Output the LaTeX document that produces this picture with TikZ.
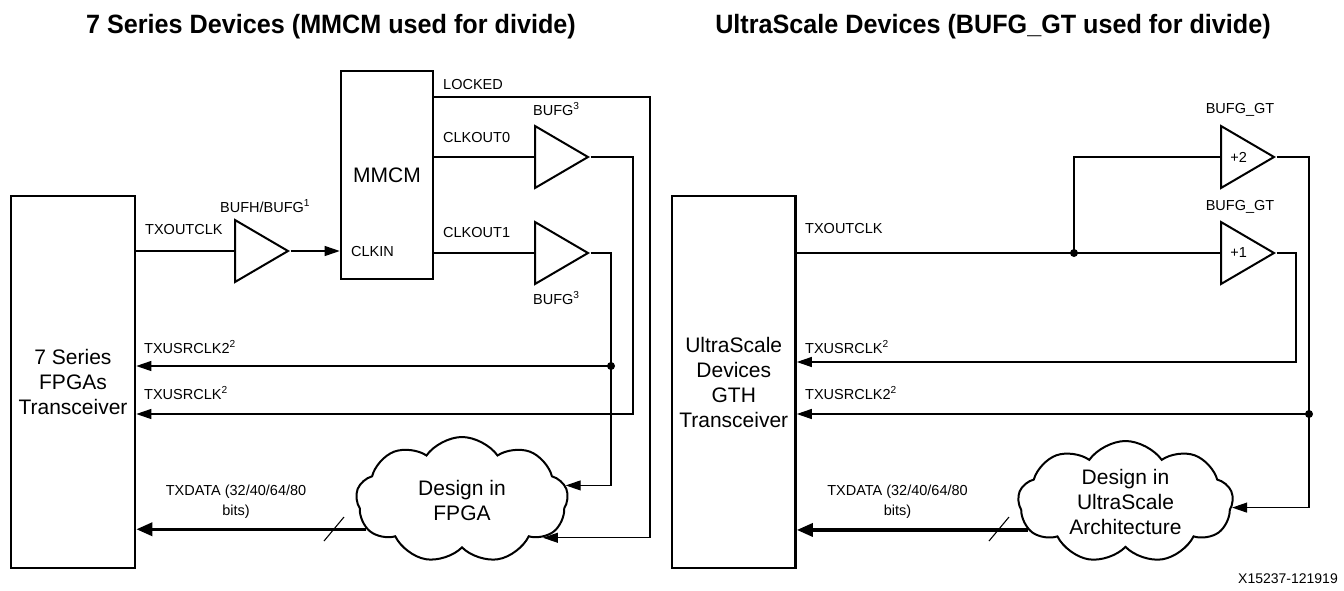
\documentclass[tikz,border=0pt]{standalone}
\usepackage{fontspec}
\setmainfont{Liberation Sans}
\newfontfamily\ttlfont{Liberation Sans}[FakeStretch=0.95]
\usetikzlibrary{arrows.meta,shapes.geometric,shapes.symbols}

\tikzset{
  ttl/.style={font=\ttlfont\fontsize{26.5}{30}\selectfont\bfseries,inner sep=0},
  blk/.style={draw,line width=2.6pt,inner sep=0,align=center,font=\fontsize{21}{25}\selectfont},
  buf/.style={draw,line width=2pt,isosceles triangle,isosceles triangle stretches,
    minimum width=62,minimum height=53,inner sep=0,anchor=west,font=\fontsize{14.5}{17}\selectfont},
  cld/.style={draw,line width=2pt,cloud,cloud puffs=9,cloud puff arc=110,cloud ignores aspect,
    inner sep=0,align=center,font=\fontsize{21}{25}\selectfont},
  lbl/.style={font=\fontsize{14.5}{20}\selectfont,inner sep=0,anchor=west},
  wire/.style={line width=1.1pt},
  arr/.style={wire,-{Triangle[length=15pt,width=10pt]}},
  bus/.style={line width=3.4pt,-{Triangle[length=16pt,width=13pt]}},
  dot/.style={circle,fill,inner sep=0,minimum size=8}
}

\begin{document}
\begin{tikzpicture}[x=1pt,y=-1pt]
\useasboundingbox (0,0) rectangle (1344,590);
% titles
\node[ttl] (ttlL) at (331,27) {7 Series Devices (MMCM used for divide)};
\node[ttl] (ttlR) at (993,27) {UltraScale Devices (BUFG\_GT used for divide)};

% 7 series, MMCM divides
\node[blk,minimum width=124,minimum height=372] (xcvrL) at (73,382) {7 Series\\FPGAs\\Transceiver};
\node[blk,minimum width=92,minimum height=208] (mmcm) at (387,175) {MMCM};
\node[buf] (bufh) at (234,251) {};
\node[buf] (bufg0) at (534,157) {};
\node[buf] (bufg1) at (534,253) {};
\node[cld,minimum width=212,minimum height=126] (cldL) at (462,500) {Design in\\FPGA};
\coordinate (lockL) at (650,97);
\coordinate (jL) at (611,366);
\coordinate (u0) at (633,414);
\coordinate (slL) at (334,529);

\draw[wire] (xcvrL.east |- bufh.west) -- (bufh.west);
\draw[arr] (bufh.east) -- (bufh.east -| mmcm.west);
\draw[wire] (mmcm.east |- bufg0.west) -- (bufg0.west);
\draw[wire] (mmcm.east |- bufg1.west) -- (bufg1.west);
\draw[arr] (lockL -| mmcm.east) -- (lockL) |- (cldL.-25);
\draw[arr] (bufg0.east) -| (u0) -- (u0 -| xcvrL.east);
\draw[arr] (bufg1.east) -| (jL) |- (cldL.8);
\draw[arr] (jL) -- (jL -| xcvrL.east);
\node[dot] (dL) at (jL) {};
\draw[bus] (cldL.197) -- (cldL.197 -| xcvrL.east);
\draw[wire] ([shift={(-10,12)}]slL) -- ([shift={(10,-12)}]slL);

\node[lbl] (nCLKIN) at (351,252) {CLKIN};
\node[lbl] (nOutL) at (145,230) {TXOUTCLK};
\node[lbl] (nBufh) at (220,206) {BUFH/BUFG\textsuperscript{1}};
\node[lbl] (nLock) at (443,85) {LOCKED};
\node[lbl] (nClk0) at (443,138) {CLKOUT0};
\node[lbl] (nClk1) at (443,233) {CLKOUT1};
\node[lbl] (nBg0) at (533,109) {BUFG\textsuperscript{3}};
\node[lbl] (nBg1) at (533,298) {BUFG\textsuperscript{3}};
\node[lbl] (nUsr2L) at (144,347) {TXUSRCLK2\textsuperscript{2}};
\node[lbl] (nUsrL) at (144,393) {TXUSRCLK\textsuperscript{2}};
\node[lbl,anchor=center,align=center] (nDatL) at (236,502) {TXDATA (32/40/64/80\\bits)};

% UltraScale, BUFG_GT divides
\node[blk,minimum width=123.5,minimum height=372] (xcvrR) at (733.75,382) {UltraScale\\Devices\\GTH\\Transceiver};
\node[buf] (bufd2) at (1220,157) {+2};
\node[buf] (bufd1) at (1220,253) {+1};
\node[cld,minimum width=215,minimum height=122] (cldR) at (1125.5,502) {Design in\\UltraScale\\Architecture};
\coordinate (jR1) at (1074,253);
\coordinate (jR2) at (1309,414);
\coordinate (u1) at (1296,362);
\coordinate (slR) at (999,529);

\draw[wire] (xcvrR.east |- bufd1.west) -- (bufd1.west);
\draw[wire] (jR1) |- (bufd2.west);
\node[dot] (dR1) at (jR1) {};
\draw[arr] (bufd2.east) -| (jR2) |- (cldR.-3);
\draw[arr] (jR2) -- (jR2 -| xcvrR.east);
\node[dot] (dR2) at (jR2) {};
\draw[arr] (bufd1.east) -| (u1) -- (u1 -| xcvrR.east);
\draw[bus] (cldR.196) -- (cldR.196 -| xcvrR.east);
\draw[wire] ([shift={(-10,12)}]slR) -- ([shift={(10,-12)}]slR);

\node[lbl] (nOutR) at (805,229) {TXOUTCLK};
\node[lbl,anchor=center] (nBgt2) at (1240,110) {BUFG\_GT};
\node[lbl,anchor=center] (nBgt1) at (1240,207) {BUFG\_GT};
\node[lbl] (nUsrR) at (805,347) {TXUSRCLK\textsuperscript{2}};
\node[lbl] (nUsr2R) at (805,393) {TXUSRCLK2\textsuperscript{2}};
\node[lbl,anchor=center,align=center] (nDatR) at (897.5,502) {TXDATA (32/40/64/80\\bits)};
\node[lbl,anchor=east,font=\fontsize{14}{16}\selectfont] (nFig) at (1338,579) {X15237-121919};
\end{tikzpicture}
\end{document}
